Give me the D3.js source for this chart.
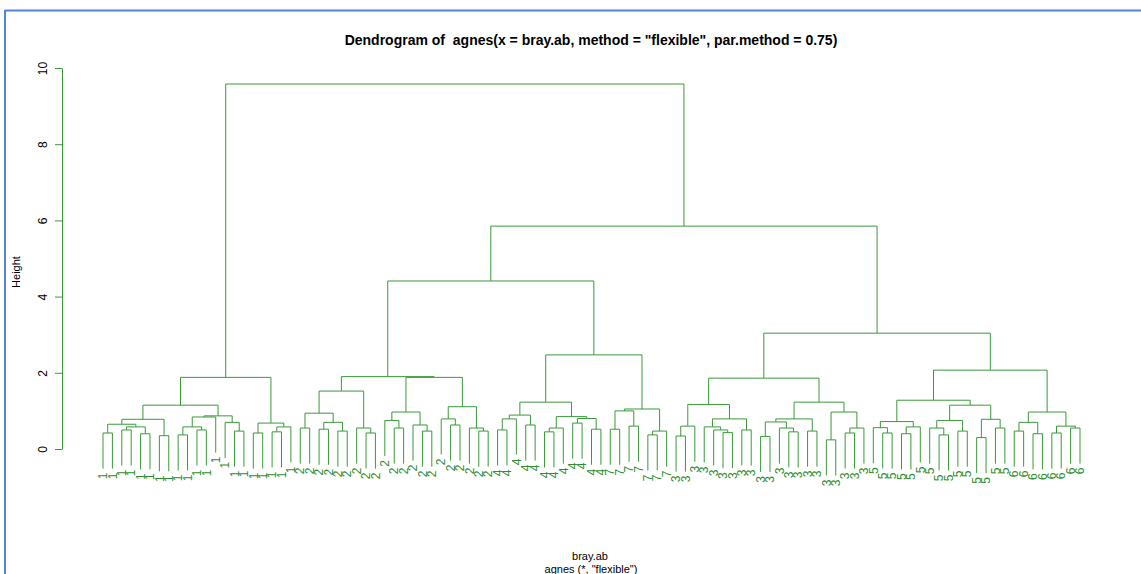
<!DOCTYPE html>
<html lang="en">
<head>
<meta charset="UTF-8">
<title>Dendrogram of agnes</title>
<script src="https://d3js.org/d3.v7.min.js"></script>
<style>
    body { margin: 0; background: #fff; }
    svg { display: block; font-family: "Liberation Sans", Arial, sans-serif; }
    .link { fill: none; stroke: #3a9a3a; stroke-width: 1; }
    .leaf-label { fill: #2f8f2f; font-size: 12px; }
</style>
</head>
<body>
<svg width="1141" height="574"></svg>
<script>
    // sub-trees: [height, left, right], a leaf is its label
    const cluster1 = [1.88,
        [1.15,
            [0.78,
                [0.65, [0.42, "1", "1"], [0.58, [0.5, "1", "1"], [0.4, "1", "1"]]],
                [0.35, "1", "1"]],
            [0.87,
                [0.84, [0.58, [0.37, "1", "1"], [0.5, "1", "1"]], "1"],
                [0.7, "1", [0.47, "1", "1"]]]],
        [0.68, [0.42, "1", "1"], [0.58, [0.45, "1", "1"], "1"]]];

    const cluster2 = [1.9,
        [1.52,
            [0.94, [0.55, "2", "2"], [0.7, [0.52, "2", "2"], [0.47, "2", "2"]]],
            [0.55, "2", [0.42, "2", "2"]]],
        [1.88,
            [0.97, [0.75, "2", [0.55, "2", "2"]], [0.63, "2", [0.47, "2", "2"]]],
            [1.11, [0.79, "2", [0.63, "2", "2"]], [0.55, "2", [0.47, "2", "2"]]]]];

    const cluster4 = [1.23,
        [0.89, [0.79, [0.5, "4", "4"], "4"], [0.63, "4", "4"]],
        [0.85, [0.55, [0.45, "4", "4"], "4"], [0.8, [0.68, "4", "4"], [0.52, "4", "4"]]]];

    const cluster7 = [1.05,
        [1.0, [0.52, "7", "7"], [0.6, "7", "7"]],
        [0.47, [0.37, "7", "7"], "7"]];

    const cluster3 = [1.86,
        [1.17,
            [0.6, [0.34, "3", "3"], "3"],
            [0.79, [0.58, "3", [0.5, "3", [0.43, "3", "3"]]], [0.5, "3", "3"]]],
        [1.23,
            [0.79, [0.71, [0.33, "3", "3"], [0.55, "3", [0.45, "3", "3"]]], [0.47, "3", "3"]],
            [0.97, [0.24, "3", "3"], [0.55, [0.42, "3", "3"], "3"]]]];

    const cluster5 = [1.28,
        [0.72, [0.56, "5", [0.42, "5", "5"]], [0.58, [0.4, "5", "5"], "5"]],
        [1.15,
            [0.75, [0.55, "5", [0.37, "5", "5"]], [0.47, "5", "5"]],
            [0.78, [0.3, "5", "5"], [0.55, "5", "5"]]]];

    const cluster6 = [0.97,
        [0.7, [0.47, "6", "6"], [0.4, "6", "6"]],
        [0.6, [0.42, "6", "6"], [0.55, "6", "6"]]];

    // how the clusters are joined at the top
    const upperTree = [9.58, "c1",
        [5.85,
            [4.41, "c2", [2.47, "c4", "c7"]],
            [3.04, "c3", [2.07, "c5", "c6"]]]];

    const yTicks = [0, 2, 4, 6, 8, 10];
    const titleText = 'Dendrogram of  agnes(x = bray.ab, method = "flexible", par.method = 0.75)';
    const xLabel = "bray.ab";
    const subLabel = 'agnes (*, "flexible")';

    const clusters = { c1: cluster1, c2: cluster2, c3: cluster3, c4: cluster4, c5: cluster5, c6: cluster6, c7: cluster7 };

    function toNode(d) {
        if (typeof d === "string") {
            if (clusters[d]) return toNode(clusters[d]);
            return { label: d };
        }
        return { h: d[0], children: [toNode(d[1]), toNode(d[2])] };
    }

    const root = d3.hierarchy(toNode(upperTree));
    const leaves = root.leaves();
    const allH = root.descendants().filter(d => d.children).map(d => d.data.h);
    const hang = 0.1 * (d3.max(allH) - d3.min(allH));

    const x = d3.scaleLinear().domain([0, leaves.length - 1]).range([103, 1080]);
    const y = d3.scaleLinear().domain([0, 10]).range([449, 68]);

    leaves.forEach((d, i) => { d.px = x(i); });
    root.eachAfter(d => {
        if (d.children) d.px = d3.mean(d.children, c => c.px);
    });

    const svg = d3.select("svg");

    // screenshot frame
    svg.append("line").attr("x1", 5).attr("x2", 5).attr("y1", 10).attr("y2", 574)
        .attr("stroke", "#5383d8").attr("stroke-width", 2);
    svg.append("line").attr("x1", 5).attr("x2", 1141).attr("y1", 10.5).attr("y2", 10.5)
        .attr("stroke", "#5383d8").attr("stroke-width", 2);

    // links
    const g = svg.append("g");
    root.descendants().filter(d => d.children).forEach(d => {
        const yn = y(d.data.h);
        const ends = d.children.map(c => c.children ? y(c.data.h) : y(d.data.h - hang));
        const [a, b] = d.children;
        g.append("path")
            .attr("class", "link")
            .attr("d", `M${a.px},${ends[0]}V${yn}H${b.px}V${ends[1]}`);
        d.children.forEach((c, i) => { if (!c.children) c.endY = ends[i]; });
    });

    // leaf labels
    svg.append("g").selectAll("text")
        .data(leaves)
        .join("text")
        .attr("class", "leaf-label")
        .attr("text-anchor", "end")
        .attr("dy", "0.35em")
        .attr("transform", d => `translate(${d.px},${d.endY + 4}) rotate(-90)`)
        .text(d => d.data.label);

    // y axis
    const axis = svg.append("g")
        .attr("transform", "translate(62,0)")
        .call(d3.axisLeft(y).tickValues(yTicks).tickSize(7).tickSizeOuter(0));
    axis.select(".domain").attr("stroke", "#3a9a3a");
    axis.selectAll(".tick line").attr("stroke", "#3a9a3a");
    axis.selectAll(".tick text")
        .attr("x", 0).attr("y", -15).attr("dy", 0)
        .attr("transform", "rotate(-90)")
        .attr("text-anchor", "middle")
        .attr("fill", "#000")
        .style("font-size", "12px")
        .style("font-family", "Liberation Sans, Arial, sans-serif");

    svg.append("text")
        .attr("transform", "translate(20,272) rotate(-90)")
        .attr("text-anchor", "middle")
        .style("font-size", "11px")
        .text("Height");

    svg.append("text")
        .attr("x", 591).attr("y", 45)
        .attr("text-anchor", "middle")
        .style("font-size", "14px").style("font-weight", "bold")
        .style("white-space", "pre")
        .text(titleText);

    svg.append("text")
        .attr("x", 590).attr("y", 560)
        .attr("text-anchor", "middle")
        .style("font-size", "11px")
        .text(xLabel);
    svg.append("text")
        .attr("x", 591).attr("y", 573)
        .attr("text-anchor", "middle")
        .style("font-size", "11px")
        .text(subLabel);
</script>
</body>
</html>
